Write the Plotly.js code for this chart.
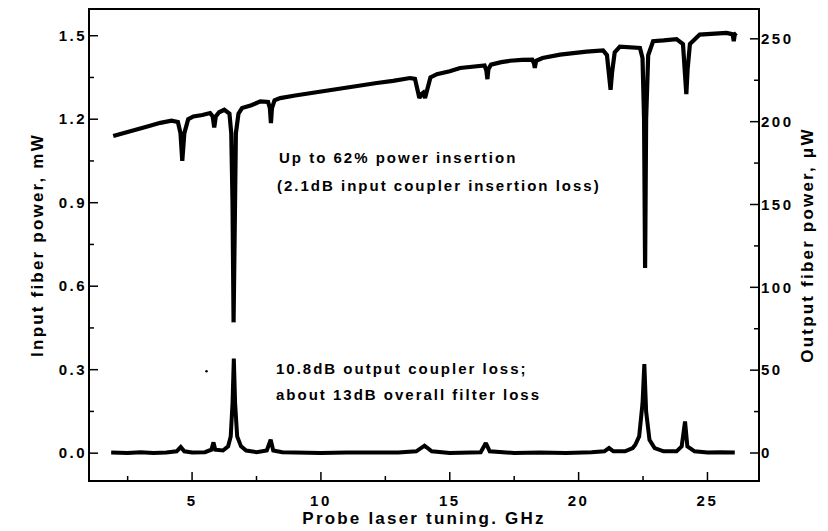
<!DOCTYPE html>
<html>
<head>
<meta charset="utf-8">
<script src="https://cdn.plot.ly/plotly-3.0.1.min.js"></script>
<style>
  html, body { margin: 0; padding: 0; background: #fff; }
  #chart { width: 828px; height: 531px; }
  .xtick text, .ytick text, .y2tick text { letter-spacing: 2.5px; }
  .xtitle, .ytitle, .y2title { letter-spacing: 2.2px; }
  .annotation-text { letter-spacing: 2px; }
</style>
</head>
<body>
<div id="chart"></div>
<script>
// Probe laser tuning (GHz) and input fiber power (mW) - upper trace, left axis
const inputX = [1.94, 2.3, 2.8, 3.3, 3.77, 4.2, 4.45, 4.55, 4.62, 4.7, 4.85, 5.05, 5.4, 5.7, 5.8, 5.86, 5.92, 6.05, 6.25, 6.45, 6.52, 6.57, 6.61, 6.65, 6.7, 6.8, 6.94, 7.3, 7.65, 7.95, 8.02, 8.06, 8.1, 8.2, 8.42, 9.0, 9.59, 10.2, 10.86, 11.5, 12.17, 12.8, 13.46, 13.65, 13.75, 13.82, 13.9, 13.97, 14.04, 14.12, 14.25, 14.5, 15.0, 15.4, 15.9, 16.35, 16.42, 16.46, 16.5, 16.6, 17.0, 17.34, 17.8, 18.2, 18.27, 18.3, 18.35, 18.6, 19.28, 19.8, 20.31, 20.95, 21.1, 21.18, 21.24, 21.3, 21.4, 21.6, 22.0, 22.38, 22.48, 22.54, 22.58, 22.62, 22.7, 22.89, 23.3, 23.8, 24.05, 24.13, 24.18, 24.23, 24.32, 24.7, 25.2, 25.74, 25.98, 26.02, 26.06, 26.12];
const inputMW = [1.14, 1.15, 1.16, 1.175, 1.187, 1.195, 1.19, 1.15, 1.05, 1.15, 1.2, 1.21, 1.215, 1.222, 1.21, 1.17, 1.21, 1.225, 1.234, 1.22, 1.15, 0.9, 0.47, 0.9, 1.15, 1.22, 1.24, 1.25, 1.264, 1.262, 1.24, 1.186, 1.24, 1.268, 1.276, 1.285, 1.294, 1.302, 1.312, 1.32, 1.33, 1.338, 1.348, 1.345, 1.3, 1.276, 1.29, 1.295, 1.276, 1.31, 1.35, 1.362, 1.372, 1.384, 1.39, 1.393, 1.375, 1.344, 1.38, 1.396, 1.405, 1.41, 1.413, 1.414, 1.4, 1.384, 1.41, 1.42, 1.432, 1.438, 1.443, 1.447, 1.43, 1.36, 1.306, 1.37, 1.44, 1.461, 1.46, 1.456, 1.42, 1.2, 0.665, 1.2, 1.43, 1.48, 1.483, 1.488, 1.47, 1.38, 1.29, 1.38, 1.47, 1.504, 1.507, 1.51, 1.505, 1.48, 1.505, 1.51];

// Output fiber power (uW) - lower trace, right axis
const outputX = [1.86, 2.5, 3.0, 3.5, 4.0, 4.4, 4.56, 4.7, 5.0, 5.5, 5.75, 5.83, 5.9, 6.2, 6.4, 6.5, 6.57, 6.62, 6.67, 6.75, 6.9, 7.1, 7.5, 7.9, 8.05, 8.15, 8.5, 9.0, 10.0, 11.0, 12.0, 13.0, 13.7, 14.02, 14.3, 15.0, 16.2, 16.4, 16.55, 17.5, 18.5, 19.5, 20.5, 21.0, 21.18, 21.35, 21.8, 22.1, 22.2, 22.35, 22.48, 22.55, 22.62, 22.75, 22.95, 23.3, 23.8, 24.0, 24.13, 24.22, 24.5, 25.0, 25.5, 26.06];
const outputUW = [0.3, 0, 0.5, 0, 0.3, 1, 3.6, 1, 0.3, 0.5, 2, 6.4, 2, 1.5, 4, 10, 30, 57, 30, 10, 4, 1.5, 0.5, 1.5, 8, 1.5, 0.5, 0.3, 0, 0.3, 0, 0.3, 1, 4.4, 1, 0, 0.5, 6, 1, 0, 0.3, 0, 0.5, 1, 3, 1, 1, 3, 5, 10, 30, 53.6, 25, 8, 3, 1, 1, 4, 19, 4, 1, 0.3, 0.5, 0.3];

// stray speck in the scan
const speckX = [5.56];
const speckMW = [0.294];

const leftTicks = [0, 0.3, 0.6, 0.9, 1.2, 1.5];
const rightTicks = [0, 50, 100, 150, 200, 250];
const xTicks = [5, 10, 15, 20, 25];

const notes = [
  {text: 'Up to 62% power insertion', x: 8.29, y: 1.063},
  {text: '(2.1dB input coupler insertion loss)', x: 8.22, y: 0.962},
  {text: '10.8dB output coupler loss;', x: 8.16, y: 0.305},
  {text: 'about 13dB overall filter loss', x: 8.16, y: 0.211}
];

const FONT = 'Liberation Sans, Arial, sans-serif';
const TF = {family: FONT, size: 15, color: '#000', weight: 'bold'};
const TITLEF = {family: FONT, size: 17, color: '#000', weight: 'bold'};

const traces = [
  {x: inputX, y: inputMW, type: 'scatter', mode: 'lines', yaxis: 'y',
   line: {color: '#000', width: 4.2}, hoverinfo: 'skip'},
  {x: outputX, y: outputUW, type: 'scatter', mode: 'lines', yaxis: 'y2',
   line: {color: '#000', width: 4}, hoverinfo: 'skip'},
  {x: speckX, y: speckMW, type: 'scatter', mode: 'markers', yaxis: 'y',
   marker: {color: '#000', size: 2.5}, hoverinfo: 'skip'}
];

function axisLinear(vals) {
  return {tickmode: 'linear', tick0: vals[0], dtick: vals[1] - vals[0]};
}
function halfSteps(vals) {
  const step = vals[1] - vals[0];
  const out = [vals[0] - step / 2];
  vals.forEach(v => out.push(v + step / 2));
  return out;
}

// frame and tick marks as shapes (positioned via the axes' own scales)
const TK = {color: '#000', width: 1.5};
const shapes = [
  {type: 'rect', xref: 'paper', yref: 'paper', x0: 0, x1: 1, y0: 0, y1: 1, line: {color: '#000', width: 2}, layer: 'above'}
];
function xTick(v, len) {
  return {type: 'line', xref: 'x', x0: v, x1: v, yref: 'paper', ysizemode: 'pixel', yanchor: 0, y0: 0, y1: len, line: TK, layer: 'above'};
}
function yTick(v, len, yref, side) {
  return {type: 'line', yref: yref, y0: v, y1: v, xref: 'paper', xsizemode: 'pixel', xanchor: side, x0: 0, x1: side === 0 ? len : -len, line: TK, layer: 'above'};
}
xTicks.forEach(v => shapes.push(xTick(v, 9)));
halfSteps(xTicks).filter(v => v > 1 && v < 27).forEach(v => shapes.push(xTick(v, 5)));
leftTicks.forEach(v => shapes.push(yTick(v, 9, 'y', 0)));
halfSteps(leftTicks).filter(v => v > -0.1 && v < 1.596).forEach(v => shapes.push(yTick(v, 5, 'y', 0)));
rightTicks.forEach(v => shapes.push(yTick(v, 9, 'y2', 1)));
halfSteps(rightTicks).filter(v => v > -16.9 && v < 268).forEach(v => shapes.push(yTick(v, 5, 'y2', 1)));

const layout = {
  width: 828, height: 531,
  margin: {l: 89, r: 69, t: 9, b: 50},
  paper_bgcolor: '#fff', plot_bgcolor: '#fff',
  showlegend: false,
  font: {family: FONT, color: '#000', size: 15},
  xaxis: Object.assign(axisLinear(xTicks), {
    range: [1, 27], ticks: '', showline: false,
    showgrid: false, zeroline: false,
    tickfont: TF, ticklabelstandoff: 9,
    title: {text: 'Probe laser tuning. GHz', font: TITLEF, standoff: 4}
  }),
  yaxis: Object.assign(axisLinear(leftTicks), {
    range: [-0.1, 1.596], tickformat: '.1f', ticks: '', showline: false,
    showgrid: false, zeroline: false,
    tickfont: TF, ticklabelstandoff: 1,
    title: {text: 'Input fiber power, mW', font: TITLEF, standoff: 10}
  }),
  yaxis2: Object.assign(axisLinear(rightTicks), {
    overlaying: 'y', side: 'right',
    range: [-16.9, 268], ticks: '', showline: false,
    showgrid: false, zeroline: false,
    tickfont: TF, ticklabelstandoff: 1,
    title: {text: 'Output fiber power, \u03bcW', font: TITLEF, standoff: 8}
  }),
  shapes: shapes,
  annotations: notes.map(n => ({
    text: n.text, x: n.x, y: n.y, xref: 'x', yref: 'y',
    xanchor: 'left', yanchor: 'middle', showarrow: false,
    font: {family: FONT, size: 15, color: '#000', weight: 'bold'}
  }))
};

Plotly.newPlot('chart', traces, layout, {displayModeBar: false, staticPlot: true});
</script>
</body>
</html>
